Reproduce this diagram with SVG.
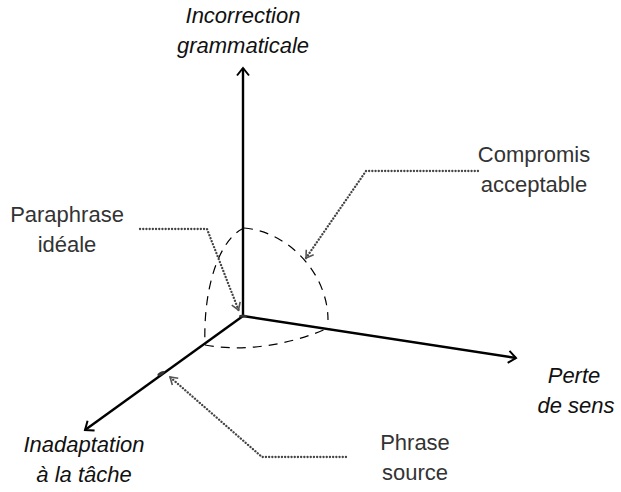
<svg xmlns="http://www.w3.org/2000/svg" width="621" height="492" viewBox="0 0 621 492">
  <style>
    .label { font-family: "Liberation Sans", Arial, sans-serif; font-size: 22px; fill: #333; text-anchor: middle; }
    .axis-label { font-family: "Liberation Sans", Arial, sans-serif; font-size: 22px; font-style: italic; fill: #111; text-anchor: middle; }
    .axis { stroke: #000; stroke-width: 2.4; fill: none; marker-end: url(#axisHead); }
    .bound { stroke: #000; stroke-width: 1.2; fill: none; stroke-dasharray: 9 7; }
    .leader { stroke: #444; stroke-width: 2.3; fill: none; stroke-dasharray: 0.1 3.1; stroke-linecap: round; stroke-linejoin: round; marker-end: url(#leaderHead); }
  </style>
  <defs>
    <marker id="axisHead" markerUnits="userSpaceOnUse" viewBox="-10 -8 12 16" refX="0" refY="0" markerWidth="12" markerHeight="16" orient="auto">
      <path d="M -7.5 -6 L 0 0 L -7.5 6" fill="none" stroke="#000" stroke-width="2"/>
    </marker>
    <marker id="leaderHead" markerUnits="userSpaceOnUse" viewBox="-10 -8 12 16" refX="0" refY="0" markerWidth="12" markerHeight="16" orient="auto">
      <path d="M -7 -4.5 L 0 0 L -7 4.5" fill="none" stroke="#555" stroke-width="1.6"/>
    </marker>
  </defs>

  <!-- axes -->
  <g id="axes">
    <line class="axis" x1="243" y1="316" x2="243" y2="68"/>
    <line class="axis" x1="243" y1="316" x2="516" y2="358"/>
    <line class="axis" x1="243" y1="316" x2="85" y2="430"/>
    <ellipse cx="243" cy="316" rx="4" ry="1.6" fill="#333"/>
    <ellipse cx="161" cy="373.5" rx="4" ry="1.6" fill="#333" transform="rotate(-30 161 373.5)"/>
  </g>

  <!-- dashed acceptance boundary -->
  <g id="boundary">
    <path class="bound" d="M 244 228 C 290 232 328 275 328 320"/>
    <path class="bound" d="M 244 228 C 218 240 203 290 205 345"/>
    <path class="bound" d="M 205 345 C 240 352 290 346 330 327"/>
  </g>

  <!-- dotted leaders -->
  <g id="connectors">
    <path class="leader" d="M 140 229 L 207 229 L 238.5 310"/>
    <path class="leader" d="M 478 171 L 366 171 L 306 258"/>
    <path class="leader" d="M 346 457 L 262 457 L 170 377"/>
  </g>

  <g id="incorrection">
    <text class="axis-label" x="243" y="23">Incorrection</text>
    <text class="axis-label" x="243" y="53">grammaticale</text>
  </g>
  <g id="perte">
    <text class="axis-label" x="574" y="383">Perte</text>
    <text class="axis-label" x="576" y="413">de sens</text>
  </g>
  <g id="inadaptation">
    <text class="axis-label" x="84" y="452">Inadaptation</text>
    <text class="axis-label" x="84" y="482">à la tâche</text>
  </g>
  <g id="compromis">
    <text class="label" x="534" y="162">Compromis</text>
    <text class="label" x="534" y="192">acceptable</text>
  </g>
  <g id="paraphrase">
    <text class="label" x="67" y="222">Paraphrase</text>
    <text class="label" x="67" y="252">idéale</text>
  </g>
  <g id="phrase-source">
    <text class="label" x="415" y="450">Phrase</text>
    <text class="label" x="415" y="480">source</text>
  </g>
</svg>
